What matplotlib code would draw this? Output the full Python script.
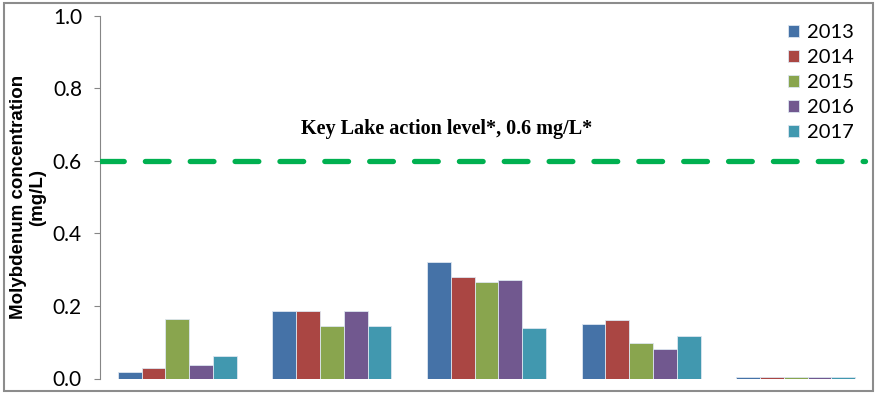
import matplotlib
matplotlib.use("Agg")
import matplotlib.pyplot as plt
from matplotlib.patches import Rectangle
import numpy as np

categories = ["Site 1", "Site 2", "Site 3", "Site 4", "Site 5"]
years = ["2013", "2014", "2015", "2016", "2017"]
v2013 = [0.017, 0.187, 0.322, 0.150, 0.004]
v2014 = [0.030, 0.185, 0.280, 0.160, 0.003]
v2015 = [0.165, 0.145, 0.267, 0.098, 0.003]
v2016 = [0.037, 0.185, 0.272, 0.080, 0.003]
v2017 = [0.063, 0.145, 0.139, 0.118, 0.004]
series = [v2013, v2014, v2015, v2016, v2017]
colors = ["#4572A7", "#AA4643", "#89A54E", "#71588F", "#4198AF"]
action_level = 0.6
action_text = "Key Lake action level*, 0.6 mg/L*"
yticks = [0.0, 0.2, 0.4, 0.6, 0.8, 1.0]

W, H = 880, 397
fig = plt.figure(figsize=(W / 100, H / 100), dpi=100)
ax = fig.add_axes([100 / W, 18.5 / H, 773 / W, 363 / H])

x = np.arange(len(categories))
bw = 0.154
for i, (vals, c, yr) in enumerate(zip(series, colors, years)):
    ax.bar(x + (i - 2) * bw, vals, width=bw, color=c, edgecolor="#dde6f0",
           linewidth=0.6, label=yr, zorder=2)

ax.plot([-0.5, 4.45], [action_level, action_level], color="#00B050", lw=3.8,
        dashes=(4.5, 4), solid_capstyle="round", dash_capstyle="round", zorder=3)
ax.text(1.745, 0.686, action_text, ha="center", va="center",
        fontfamily="Liberation Serif", fontweight="bold", fontsize=14.5)

ax.set_xlim(-0.5, 4.5)
ax.set_ylim(0, 1.0)
ax.set_yticks(yticks)
ax.set_yticklabels([f"{t:.1f}" for t in yticks], fontfamily="Lato", fontsize=15)
ax.set_xticks([])
for s in ["top", "right", "bottom"]:
    ax.spines[s].set_visible(False)
ax.spines["left"].set_color("#868686")
ax.tick_params(axis="y", direction="out", length=4, color="#868686", pad=9)

ax.set_ylabel("Molybdenum concentration\n(mg/L)", fontfamily="Liberation Sans",
              fontweight="bold", fontsize=13.5, linespacing=1.15, labelpad=5)

leg = ax.legend(loc="upper left", bbox_to_anchor=(0.866, 1.027), frameon=False,
                prop={"family": "Lato", "size": 14.5}, handlelength=0.55,
                handleheight=0.55, handletextpad=0.4, labelspacing=0.4,
                borderaxespad=0.5)

fig.patches.append(Rectangle((4 / W, (H - 391) / H), 869 / W, 388 / H,
                             transform=fig.transFigure, fill=False,
                             edgecolor="#8c8c8c", linewidth=1.5))

fig.savefig("out.png", dpi=100)
